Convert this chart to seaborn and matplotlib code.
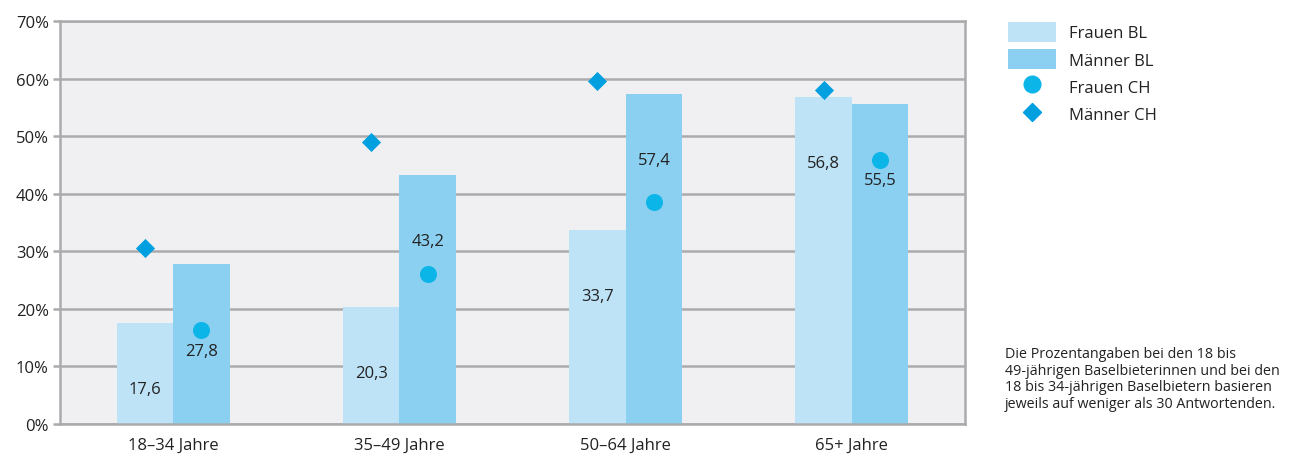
import numpy as np
import pandas as pd
import matplotlib
matplotlib.use("Agg")
import matplotlib.pyplot as plt
import seaborn as sns
from matplotlib.patches import Patch
from matplotlib.lines import Line2D

categories = ["18–34 Jahre", "35–49 Jahre", "50–64 Jahre", "65+ Jahre"]
frauen_bl = [17.6, 20.3, 33.7, 56.8]
maenner_bl = [27.8, 43.2, 57.4, 55.5]
frauen_ch = [16.3, 26.1, 38.6, 45.9]
maenner_ch = [30.5, 49.0, 59.6, 58.0]
series_names = ["Frauen BL", "Männer BL", "Frauen CH", "Männer CH"]
y_ticks = [0, 10, 20, 30, 40, 50, 60, 70]
note = ("Die Prozentangaben bei den 18 bis\n49-jährigen Baselbieterinnen und bei den\n"
        "18 bis 34-jährigen Baselbietern basieren\njeweils auf weniger als 30 Antwortenden.")

c_fbl, c_mbl, c_fch, c_mch = "#BEE3F7", "#8BD0F1", "#0BB5E8", "#009FE0"
grid_c = "#ABABAD"
text_c = "#222222"

sns.set_theme(style="white")
plt.rcParams["font.family"] = ["Open Sans", "DejaVu Sans"]

df = pd.DataFrame({
    "age": categories * 2,
    "value": frauen_bl + maenner_bl,
    "sex": [series_names[0]] * 4 + [series_names[1]] * 4,
})

fig = plt.figure(figsize=(12.9, 4.56), dpi=100)
ax = fig.add_axes([60 / 1290, 1 - 425 / 456, 905 / 1290, 403 / 456])
ax.set_facecolor("#F0F0F2")

sns.barplot(data=df, x="age", y="value", hue="sex", palette=[c_fbl, c_mbl],
            width=0.5, saturation=1, ax=ax, legend=False, linewidth=0, zorder=2)

pos = np.arange(len(categories))
ax.scatter(pos - 0.125, maenner_ch, marker="D", s=95, color=c_mch, zorder=4, linewidths=0)
ax.scatter(pos + 0.125, frauen_ch, marker="o", s=150, color=c_fch, zorder=4, linewidths=0)

# value labels
for i in range(len(categories)):
    ax.text(pos[i] - 0.125, frauen_bl[i] - 11.5, f"{frauen_bl[i]:.1f}".replace(".", ","),
            ha="center", va="center", fontsize=12, color=text_c, zorder=5)
    ym = maenner_bl[i] - 11.5
    if abs(ym - frauen_ch[i]) < 4:
        ym = frauen_ch[i] - 3.6
    ax.text(pos[i] + 0.125, ym, f"{maenner_bl[i]:.1f}".replace(".", ","),
            ha="center", va="center", fontsize=12, color=text_c, zorder=5)

ax.set_xlim(-0.5, len(categories) - 0.5)
ax.set_ylim(0, 70)
ax.set_yticks(y_ticks)
ax.set_yticklabels([f"{t}%" for t in y_ticks])
ax.yaxis.grid(True, color=grid_c, linewidth=1.8, zorder=1)
ax.set_axisbelow(True)
ax.set_xlabel("")
ax.set_ylabel("")
for s in ax.spines.values():
    s.set_color(grid_c)
    s.set_linewidth(1.8)
ax.tick_params(axis="y", left=True, length=5, width=1.8, color=grid_c, labelsize=12,
               labelcolor=text_c, pad=3)
ax.tick_params(axis="x", bottom=False, labelsize=12, labelcolor=text_c, pad=3)

handles = [
    Patch(facecolor=c_fbl, edgecolor="none"),
    Patch(facecolor=c_mbl, edgecolor="none"),
    Line2D([], [], marker="o", color=c_fch, linestyle="none", markersize=12),
    Line2D([], [], marker="D", color=c_mch, linestyle="none", markersize=9),
]
fig.legend(handles, series_names, loc="upper left", bbox_to_anchor=(996 / 1290, 1 - 11 / 456),
           frameon=False, fontsize=12, handlelength=2.9, handleheight=1.5,
           labelspacing=0.42, handletextpad=0.8, labelcolor=text_c, borderpad=0.2)

fig.text(1005 / 1290, 1 - 347 / 456, note, ha="left", va="top", fontsize=10.3,
         color=text_c, linespacing=1.15)

fig.savefig("out.png", dpi=100)
